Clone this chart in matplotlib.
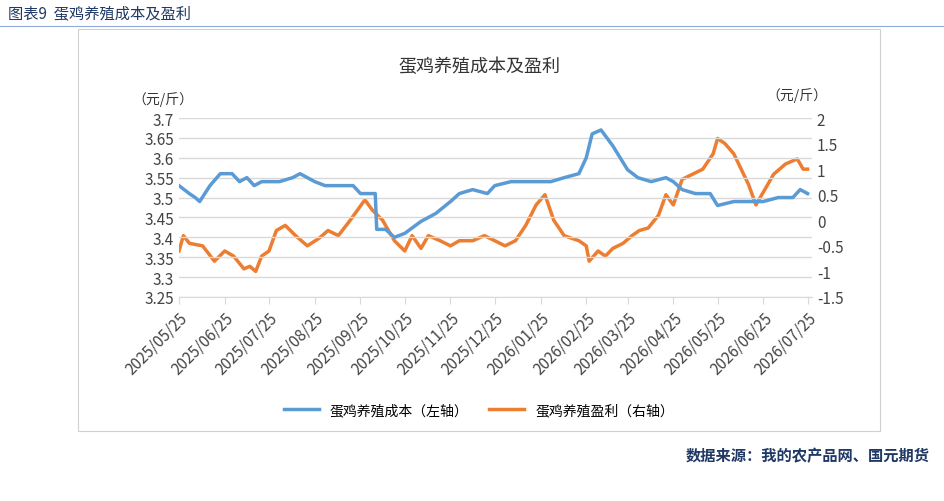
import matplotlib
matplotlib.use("Agg")
from matplotlib import pyplot as plt
from matplotlib.patches import Rectangle
import numpy as np
import pandas as pd

plt.rcParams['font.family'] = ['Noto Sans CJK SC', 'DejaVu Sans']

cost_dates = ["2025-05-25", "2025-06-01", "2025-06-05", "2025-06-08", "2025-06-15", "2025-06-22", "2025-06-30",
              "2025-07-05", "2025-07-10", "2025-07-15", "2025-07-20", "2025-08-01", "2025-08-10", "2025-08-15",
              "2025-08-25", "2025-09-01", "2025-09-20", "2025-09-25", "2025-10-05", "2025-10-06", "2025-10-12",
              "2025-10-18", "2025-10-25", "2025-11-05", "2025-11-15", "2025-11-25", "2025-12-01", "2025-12-10",
              "2025-12-20", "2025-12-25", "2026-01-05", "2026-02-01", "2026-02-10", "2026-02-20", "2026-02-25",
              "2026-03-01", "2026-03-07", "2026-03-15", "2026-03-25", "2026-04-01", "2026-04-10", "2026-04-20",
              "2026-04-25", "2026-05-01", "2026-05-10", "2026-05-20", "2026-05-25", "2026-06-05", "2026-06-25",
              "2026-07-05", "2026-07-15", "2026-07-20", "2026-07-25"]
cost = [3.53, 3.51, 3.50, 3.49, 3.53, 3.56, 3.56,
        3.54, 3.55, 3.53, 3.54, 3.54, 3.55, 3.56,
        3.54, 3.53, 3.53, 3.51, 3.51, 3.42, 3.42,
        3.40, 3.41, 3.44, 3.46, 3.49, 3.51, 3.52,
        3.51, 3.53, 3.54, 3.54, 3.55, 3.56, 3.60,
        3.66, 3.67, 3.63, 3.57, 3.55, 3.54, 3.55,
        3.54, 3.52, 3.51, 3.51, 3.48, 3.49, 3.49,
        3.50, 3.50, 3.52, 3.51]

profit_dates = ["2025-05-25", "2025-05-28", "2025-06-01", "2025-06-10", "2025-06-18", "2025-06-25", "2025-07-01",
                "2025-07-08", "2025-07-12", "2025-07-16", "2025-07-20", "2025-07-25", "2025-07-30", "2025-08-05",
                "2025-08-12", "2025-08-20", "2025-08-28", "2025-09-03", "2025-09-10", "2025-09-18", "2025-09-28",
                "2025-10-03", "2025-10-10", "2025-10-18", "2025-10-25", "2025-10-30", "2025-11-05", "2025-11-10",
                "2025-11-18", "2025-11-25", "2025-12-01", "2025-12-10", "2025-12-18", "2025-12-25", "2026-01-01",
                "2026-01-08", "2026-01-15", "2026-01-22", "2026-01-28", "2026-02-03", "2026-02-10", "2026-02-20",
                "2026-02-25", "2026-02-27", "2026-03-05", "2026-03-10", "2026-03-15", "2026-03-22", "2026-03-28",
                "2026-04-02", "2026-04-08", "2026-04-15", "2026-04-20", "2026-04-25", "2026-05-01", "2026-05-08",
                "2026-05-15", "2026-05-22", "2026-05-25", "2026-05-30", "2026-06-05", "2026-06-15", "2026-06-20",
                "2026-06-26", "2026-07-02", "2026-07-10", "2026-07-18", "2026-07-22", "2026-07-25"]
profit = [-0.6, -0.3, -0.45, -0.5, -0.8, -0.6, -0.7,
          -0.95, -0.9, -1.0, -0.7, -0.6, -0.2, -0.1,
          -0.3, -0.5, -0.35, -0.2, -0.3, 0.0, 0.4,
          0.2, 0.0, -0.4, -0.6, -0.3, -0.55, -0.3,
          -0.4, -0.5, -0.4, -0.4, -0.3, -0.4, -0.5,
          -0.4, -0.1, 0.3, 0.5, 0.0, -0.3, -0.4,
          -0.5, -0.8, -0.6, -0.7, -0.55, -0.45, -0.3,
          -0.2, -0.15, 0.1, 0.5, 0.3, 0.8, 0.9,
          1.0, 1.3, 1.6, 1.5, 1.3, 0.7, 0.3,
          0.6, 0.9, 1.1, 1.2, 1.0, 1.0]

tick_labels = ["2025/05/25", "2025/06/25", "2025/07/25", "2025/08/25", "2025/09/25", "2025/10/25",
               "2025/11/25", "2025/12/25", "2026/01/25", "2026/02/25", "2026/03/25", "2026/04/25",
               "2026/05/25", "2026/06/25", "2026/07/25"]

BLUE = "#5B9BD5"
ORANGE = "#ED7D31"

fig = plt.figure(figsize=(9.44, 5.02), dpi=100)
fig.patches.append(Rectangle((78/944, 1-432/502), 802/944, 402/502, transform=fig.transFigure,
                             fill=False, edgecolor="#d0d0d0", lw=0.8))
fig.text(8/944, 1-14/502, "图表9  蛋鸡养殖成本及盈利", fontsize=11, color="#1f3864", va="center")
fig.add_artist(plt.Line2D([0, 1], [1-27/502, 1-27/502], color="#8faadc", lw=0.8))
fig.text(930/944, 1-456/502, "数据来源：我的农产品网、国元期货", fontsize=11, color="#1f3864",
         ha="right", va="center", fontweight="bold")
fig.text(479/944, 1-67/502, "蛋鸡养殖成本及盈利", fontsize=13, ha="center", va="center", color="#333333")
fig.text(163/944, 1-100/502, "（元/斤）", fontsize=10, ha="center", va="center", color="#333333")
fig.text(797/944, 1-96/502, "（元/斤）", fontsize=10, ha="center", va="center", color="#333333")

ax = fig.add_axes([179/944, 1-298/502, 633/944, 179/502])
ax2 = ax.twinx()
cd = pd.to_datetime(cost_dates)
pdt = pd.to_datetime(profit_dates)
l1, = ax.plot(cd, cost, color=BLUE, lw=2.5)
l2, = ax2.plot(pdt, profit, color=ORANGE, lw=2.5)

ax.set_ylim(3.25, 3.7)
ax.set_yticks(np.arange(3.25, 3.701, 0.05))
ax.set_yticklabels(["3.25", "3.3", "3.35", "3.4", "3.45", "3.5", "3.55", "3.6", "3.65", "3.7"])
ax2.set_ylim(-1.5, 2)
ax2.set_yticks(np.arange(-1.5, 2.01, 0.5))
ax2.set_yticklabels(["-1.5", "-1", "-0.5", "0", "0.5", "1", "1.5", "2"])
ticks = pd.to_datetime([t.replace("/", "-") for t in tick_labels])
ax.set_xlim(ticks[0], ticks[-1] + pd.Timedelta(days=3))
ax.set_xticks(ticks)
ax.set_xticklabels(tick_labels, rotation=45, ha="right", rotation_mode="anchor", fontsize=11, color="#444444")
ax.grid(axis="y", color="#d9d9d9", lw=1)
for a in (ax, ax2):
    for s in a.spines.values():
        s.set_visible(False)
    a.tick_params(axis="y", length=0, labelsize=11, colors="#444444")
ax.spines["bottom"].set_visible(True)
ax.spines["bottom"].set_color("#d9d9d9")
ax.tick_params(axis="x", length=5, color="#d9d9d9")
ax.set_zorder(ax2.get_zorder() + 1)
ax.patch.set_visible(False)

fig.legend([l1, l2], ["蛋鸡养殖成本（左轴）", "蛋鸡养殖盈利（右轴）"], loc="center",
           bbox_to_anchor=(479/944, 1-411/502), ncol=2, frameon=False, fontsize=10,
           handlelength=2.5, columnspacing=1.5)

fig.savefig("out.png", dpi=100)
